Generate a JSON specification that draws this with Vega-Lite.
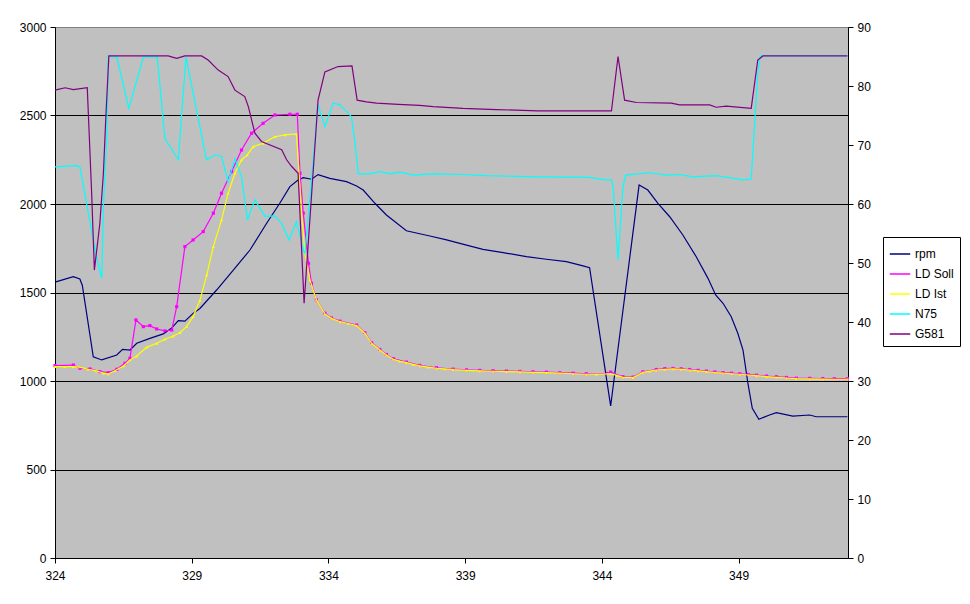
{
  "$schema": "https://vega.github.io/schema/vega-lite/v6.json",
  "width": 793,
  "height": 531,
  "autosize": {"type": "none"},
  "padding": {"left": 55, "top": 27, "right": 122, "bottom": 46},
  "background": "white",
  "config": {
    "view": {"fill": "#C0C0C0", "stroke": "#808080", "strokeWidth": 1},
    "font": "Liberation Sans",
    "axis": {
      "labelFont": "Liberation Sans",
      "labelFontSize": 12,
      "labelColor": "black",
      "domainColor": "black",
      "tickColor": "black",
      "tickSize": 5,
      "labelPadding": 4,
      "title": null
    },
    "legend": {
      "labelFont": "Liberation Sans",
      "labelFontSize": 12
    }
  },
  "datasets": {
    "left": [
      {"t": 324.0, "s": "rpm", "v": 1559},
      {"t": 324.67, "s": "rpm", "v": 1589},
      {"t": 324.91, "s": "rpm", "v": 1576},
      {"t": 325.0, "s": "rpm", "v": 1540},
      {"t": 325.4, "s": "rpm", "v": 1137},
      {"t": 325.71, "s": "rpm", "v": 1119},
      {"t": 326.26, "s": "rpm", "v": 1147},
      {"t": 326.47, "s": "rpm", "v": 1179},
      {"t": 326.74, "s": "rpm", "v": 1175},
      {"t": 326.99, "s": "rpm", "v": 1213},
      {"t": 327.47, "s": "rpm", "v": 1241},
      {"t": 327.96, "s": "rpm", "v": 1266},
      {"t": 328.27, "s": "rpm", "v": 1300},
      {"t": 328.51, "s": "rpm", "v": 1341},
      {"t": 328.75, "s": "rpm", "v": 1338},
      {"t": 329.05, "s": "rpm", "v": 1382},
      {"t": 329.3, "s": "rpm", "v": 1410},
      {"t": 329.91, "s": "rpm", "v": 1514},
      {"t": 330.52, "s": "rpm", "v": 1627},
      {"t": 331.13, "s": "rpm", "v": 1740},
      {"t": 331.74, "s": "rpm", "v": 1891},
      {"t": 332.22, "s": "rpm", "v": 2004},
      {"t": 332.59, "s": "rpm", "v": 2098},
      {"t": 332.89, "s": "rpm", "v": 2136},
      {"t": 333.08, "s": "rpm", "v": 2149},
      {"t": 333.38, "s": "rpm", "v": 2140},
      {"t": 333.62, "s": "rpm", "v": 2166},
      {"t": 334.05, "s": "rpm", "v": 2145},
      {"t": 334.66, "s": "rpm", "v": 2126},
      {"t": 335.03, "s": "rpm", "v": 2102},
      {"t": 335.27, "s": "rpm", "v": 2079},
      {"t": 335.7, "s": "rpm", "v": 2004},
      {"t": 336.12, "s": "rpm", "v": 1938},
      {"t": 336.85, "s": "rpm", "v": 1849},
      {"t": 337.71, "s": "rpm", "v": 1819},
      {"t": 338.32, "s": "rpm", "v": 1797},
      {"t": 339.05, "s": "rpm", "v": 1768},
      {"t": 339.65, "s": "rpm", "v": 1744},
      {"t": 340.39, "s": "rpm", "v": 1725},
      {"t": 341.24, "s": "rpm", "v": 1703},
      {"t": 341.97, "s": "rpm", "v": 1688},
      {"t": 342.7, "s": "rpm", "v": 1674},
      {"t": 343.31, "s": "rpm", "v": 1650},
      {"t": 343.55, "s": "rpm", "v": 1640},
      {"t": 344.32, "s": "rpm", "v": 859},
      {"t": 345.36, "s": "rpm", "v": 2107},
      {"t": 345.68, "s": "rpm", "v": 2079},
      {"t": 346.05, "s": "rpm", "v": 2004},
      {"t": 346.48, "s": "rpm", "v": 1928},
      {"t": 346.96, "s": "rpm", "v": 1825},
      {"t": 347.45, "s": "rpm", "v": 1702},
      {"t": 347.88, "s": "rpm", "v": 1580},
      {"t": 348.16, "s": "rpm", "v": 1486},
      {"t": 348.43, "s": "rpm", "v": 1439},
      {"t": 348.73, "s": "rpm", "v": 1363},
      {"t": 348.97, "s": "rpm", "v": 1270},
      {"t": 349.16, "s": "rpm", "v": 1175},
      {"t": 349.34, "s": "rpm", "v": 987},
      {"t": 349.5, "s": "rpm", "v": 846},
      {"t": 349.74, "s": "rpm", "v": 784},
      {"t": 350.13, "s": "rpm", "v": 808},
      {"t": 350.38, "s": "rpm", "v": 821},
      {"t": 350.98, "s": "rpm", "v": 802},
      {"t": 351.6, "s": "rpm", "v": 808},
      {"t": 351.84, "s": "rpm", "v": 798},
      {"t": 352.98, "s": "rpm", "v": 798},

      {"t": 324.0, "s": "LD Soll", "v": 1087},
      {"t": 324.67, "s": "LD Soll", "v": 1090},
      {"t": 324.91, "s": "LD Soll", "v": 1072},
      {"t": 325.28, "s": "LD Soll", "v": 1068},
      {"t": 325.64, "s": "LD Soll", "v": 1053},
      {"t": 325.95, "s": "LD Soll", "v": 1047},
      {"t": 326.26, "s": "LD Soll", "v": 1066},
      {"t": 326.56, "s": "LD Soll", "v": 1100},
      {"t": 326.74, "s": "LD Soll", "v": 1128},
      {"t": 326.96, "s": "LD Soll", "v": 1345},
      {"t": 327.23, "s": "LD Soll", "v": 1307},
      {"t": 327.47, "s": "LD Soll", "v": 1313},
      {"t": 327.72, "s": "LD Soll", "v": 1294},
      {"t": 328.02, "s": "LD Soll", "v": 1283},
      {"t": 328.27, "s": "LD Soll", "v": 1288},
      {"t": 328.45, "s": "LD Soll", "v": 1420},
      {"t": 328.75, "s": "LD Soll", "v": 1759},
      {"t": 329.05, "s": "LD Soll", "v": 1797},
      {"t": 329.42, "s": "LD Soll", "v": 1844},
      {"t": 329.79, "s": "LD Soll", "v": 1948},
      {"t": 330.09, "s": "LD Soll", "v": 2061},
      {"t": 330.46, "s": "LD Soll", "v": 2183},
      {"t": 330.82, "s": "LD Soll", "v": 2305},
      {"t": 331.19, "s": "LD Soll", "v": 2400},
      {"t": 331.61, "s": "LD Soll", "v": 2456},
      {"t": 332.04, "s": "LD Soll", "v": 2503},
      {"t": 332.59, "s": "LD Soll", "v": 2507},
      {"t": 332.86, "s": "LD Soll", "v": 2507},
      {"t": 332.96, "s": "LD Soll", "v": 2174},
      {"t": 333.08, "s": "LD Soll", "v": 1948},
      {"t": 333.27, "s": "LD Soll", "v": 1665},
      {"t": 333.38, "s": "LD Soll", "v": 1552},
      {"t": 333.56, "s": "LD Soll", "v": 1458},
      {"t": 333.87, "s": "LD Soll", "v": 1383},
      {"t": 334.11, "s": "LD Soll", "v": 1356},
      {"t": 334.42, "s": "LD Soll", "v": 1338},
      {"t": 335.03, "s": "LD Soll", "v": 1316},
      {"t": 335.33, "s": "LD Soll", "v": 1273},
      {"t": 335.58, "s": "LD Soll", "v": 1216},
      {"t": 335.88, "s": "LD Soll", "v": 1178},
      {"t": 336.12, "s": "LD Soll", "v": 1150},
      {"t": 336.37, "s": "LD Soll", "v": 1126},
      {"t": 336.85, "s": "LD Soll", "v": 1107},
      {"t": 337.34, "s": "LD Soll", "v": 1088},
      {"t": 337.95, "s": "LD Soll", "v": 1075},
      {"t": 338.56, "s": "LD Soll", "v": 1067},
      {"t": 339.05, "s": "LD Soll", "v": 1063},
      {"t": 339.53, "s": "LD Soll", "v": 1060},
      {"t": 340.02, "s": "LD Soll", "v": 1058},
      {"t": 340.51, "s": "LD Soll", "v": 1056},
      {"t": 341.0, "s": "LD Soll", "v": 1054},
      {"t": 341.48, "s": "LD Soll", "v": 1052},
      {"t": 341.97, "s": "LD Soll", "v": 1050},
      {"t": 342.46, "s": "LD Soll", "v": 1047},
      {"t": 342.95, "s": "LD Soll", "v": 1044},
      {"t": 343.43, "s": "LD Soll", "v": 1041},
      {"t": 344.17, "s": "LD Soll", "v": 1043},
      {"t": 344.32, "s": "LD Soll", "v": 1050},
      {"t": 344.77, "s": "LD Soll", "v": 1024},
      {"t": 345.14, "s": "LD Soll", "v": 1022},
      {"t": 345.5, "s": "LD Soll", "v": 1052},
      {"t": 345.99, "s": "LD Soll", "v": 1065},
      {"t": 346.3, "s": "LD Soll", "v": 1070},
      {"t": 346.6, "s": "LD Soll", "v": 1071},
      {"t": 346.9, "s": "LD Soll", "v": 1069},
      {"t": 347.21, "s": "LD Soll", "v": 1065},
      {"t": 347.52, "s": "LD Soll", "v": 1060},
      {"t": 347.82, "s": "LD Soll", "v": 1056},
      {"t": 348.13, "s": "LD Soll", "v": 1051},
      {"t": 348.43, "s": "LD Soll", "v": 1047},
      {"t": 348.74, "s": "LD Soll", "v": 1044},
      {"t": 349.04, "s": "LD Soll", "v": 1041},
      {"t": 349.35, "s": "LD Soll", "v": 1037},
      {"t": 349.65, "s": "LD Soll", "v": 1033},
      {"t": 350.02, "s": "LD Soll", "v": 1028},
      {"t": 350.38, "s": "LD Soll", "v": 1024},
      {"t": 350.75, "s": "LD Soll", "v": 1020},
      {"t": 351.11, "s": "LD Soll", "v": 1016},
      {"t": 351.6, "s": "LD Soll", "v": 1015},
      {"t": 352.08, "s": "LD Soll", "v": 1014},
      {"t": 352.5, "s": "LD Soll", "v": 1013},
      {"t": 352.98, "s": "LD Soll", "v": 1013},

      {"t": 324.0, "s": "LD Ist", "v": 1081},
      {"t": 324.35, "s": "LD Ist", "v": 1081},
      {"t": 324.67, "s": "LD Ist", "v": 1081},
      {"t": 324.91, "s": "LD Ist", "v": 1078},
      {"t": 325.22, "s": "LD Ist", "v": 1066},
      {"t": 325.52, "s": "LD Ist", "v": 1057},
      {"t": 325.77, "s": "LD Ist", "v": 1044},
      {"t": 325.95, "s": "LD Ist", "v": 1040},
      {"t": 326.19, "s": "LD Ist", "v": 1058},
      {"t": 326.5, "s": "LD Ist", "v": 1085},
      {"t": 326.74, "s": "LD Ist", "v": 1119},
      {"t": 326.99, "s": "LD Ist", "v": 1141},
      {"t": 327.35, "s": "LD Ist", "v": 1190},
      {"t": 327.72, "s": "LD Ist", "v": 1213},
      {"t": 328.02, "s": "LD Ist", "v": 1236},
      {"t": 328.32, "s": "LD Ist", "v": 1254},
      {"t": 328.57, "s": "LD Ist", "v": 1273},
      {"t": 328.81, "s": "LD Ist", "v": 1307},
      {"t": 329.05, "s": "LD Ist", "v": 1363},
      {"t": 329.3, "s": "LD Ist", "v": 1456},
      {"t": 329.55, "s": "LD Ist", "v": 1600},
      {"t": 329.79, "s": "LD Ist", "v": 1759},
      {"t": 330.09, "s": "LD Ist", "v": 1910},
      {"t": 330.33, "s": "LD Ist", "v": 2061},
      {"t": 330.58, "s": "LD Ist", "v": 2174},
      {"t": 330.82, "s": "LD Ist", "v": 2249},
      {"t": 331.03, "s": "LD Ist", "v": 2277},
      {"t": 331.25, "s": "LD Ist", "v": 2324},
      {"t": 331.61, "s": "LD Ist", "v": 2343},
      {"t": 332.04, "s": "LD Ist", "v": 2380},
      {"t": 332.41, "s": "LD Ist", "v": 2390},
      {"t": 332.83, "s": "LD Ist", "v": 2396},
      {"t": 333.02, "s": "LD Ist", "v": 1948},
      {"t": 333.14, "s": "LD Ist", "v": 1722},
      {"t": 333.32, "s": "LD Ist", "v": 1571},
      {"t": 333.56, "s": "LD Ist", "v": 1458},
      {"t": 333.87, "s": "LD Ist", "v": 1379},
      {"t": 334.11, "s": "LD Ist", "v": 1354},
      {"t": 334.42, "s": "LD Ist", "v": 1335},
      {"t": 334.72, "s": "LD Ist", "v": 1325},
      {"t": 335.03, "s": "LD Ist", "v": 1313},
      {"t": 335.33, "s": "LD Ist", "v": 1270},
      {"t": 335.58, "s": "LD Ist", "v": 1213},
      {"t": 335.88, "s": "LD Ist", "v": 1175},
      {"t": 336.12, "s": "LD Ist", "v": 1147},
      {"t": 336.37, "s": "LD Ist", "v": 1123},
      {"t": 336.61, "s": "LD Ist", "v": 1112},
      {"t": 336.85, "s": "LD Ist", "v": 1104},
      {"t": 337.1, "s": "LD Ist", "v": 1094},
      {"t": 337.34, "s": "LD Ist", "v": 1085},
      {"t": 337.65, "s": "LD Ist", "v": 1078},
      {"t": 337.95, "s": "LD Ist", "v": 1072},
      {"t": 338.26, "s": "LD Ist", "v": 1068},
      {"t": 338.56, "s": "LD Ist", "v": 1064},
      {"t": 339.05, "s": "LD Ist", "v": 1060},
      {"t": 339.53, "s": "LD Ist", "v": 1057},
      {"t": 340.02, "s": "LD Ist", "v": 1055},
      {"t": 340.51, "s": "LD Ist", "v": 1053},
      {"t": 341.0, "s": "LD Ist", "v": 1051},
      {"t": 341.48, "s": "LD Ist", "v": 1049},
      {"t": 341.97, "s": "LD Ist", "v": 1047},
      {"t": 342.46, "s": "LD Ist", "v": 1044},
      {"t": 342.95, "s": "LD Ist", "v": 1041},
      {"t": 343.43, "s": "LD Ist", "v": 1038},
      {"t": 343.8, "s": "LD Ist", "v": 1039},
      {"t": 344.17, "s": "LD Ist", "v": 1040},
      {"t": 344.32, "s": "LD Ist", "v": 1041},
      {"t": 344.55, "s": "LD Ist", "v": 1032},
      {"t": 344.77, "s": "LD Ist", "v": 1021},
      {"t": 345.14, "s": "LD Ist", "v": 1019},
      {"t": 345.5, "s": "LD Ist", "v": 1049},
      {"t": 345.75, "s": "LD Ist", "v": 1056},
      {"t": 345.99, "s": "LD Ist", "v": 1062},
      {"t": 346.3, "s": "LD Ist", "v": 1066},
      {"t": 346.6, "s": "LD Ist", "v": 1068},
      {"t": 346.9, "s": "LD Ist", "v": 1066},
      {"t": 347.21, "s": "LD Ist", "v": 1062},
      {"t": 347.52, "s": "LD Ist", "v": 1057},
      {"t": 347.82, "s": "LD Ist", "v": 1053},
      {"t": 348.13, "s": "LD Ist", "v": 1048},
      {"t": 348.43, "s": "LD Ist", "v": 1044},
      {"t": 348.74, "s": "LD Ist", "v": 1041},
      {"t": 349.04, "s": "LD Ist", "v": 1038},
      {"t": 349.35, "s": "LD Ist", "v": 1034},
      {"t": 349.65, "s": "LD Ist", "v": 1030},
      {"t": 350.02, "s": "LD Ist", "v": 1025},
      {"t": 350.38, "s": "LD Ist", "v": 1021},
      {"t": 350.75, "s": "LD Ist", "v": 1017},
      {"t": 351.11, "s": "LD Ist", "v": 1013},
      {"t": 351.6, "s": "LD Ist", "v": 1012},
      {"t": 352.08, "s": "LD Ist", "v": 1011},
      {"t": 352.5, "s": "LD Ist", "v": 1010},
      {"t": 352.98, "s": "LD Ist", "v": 1010}
    ],
    "right": [
      {"t": 324.0, "s": "N75", "v": 66.3},
      {"t": 324.79, "s": "N75", "v": 66.5},
      {"t": 324.91, "s": "N75", "v": 66.3},
      {"t": 325.4, "s": "N75", "v": 53.9},
      {"t": 325.52, "s": "N75", "v": 51.1},
      {"t": 325.71, "s": "N75", "v": 47.4},
      {"t": 325.77, "s": "N75", "v": 59.5},
      {"t": 325.89, "s": "N75", "v": 70.9},
      {"t": 325.95, "s": "N75", "v": 85.0},
      {"t": 326.26, "s": "N75", "v": 84.9},
      {"t": 326.7, "s": "N75", "v": 76.2},
      {"t": 327.23, "s": "N75", "v": 84.9},
      {"t": 327.74, "s": "N75", "v": 84.9},
      {"t": 328.02, "s": "N75", "v": 71.1},
      {"t": 328.51, "s": "N75", "v": 67.5},
      {"t": 328.79, "s": "N75", "v": 84.9},
      {"t": 329.54, "s": "N75", "v": 67.5},
      {"t": 329.85, "s": "N75", "v": 68.3},
      {"t": 330.09, "s": "N75", "v": 68.1},
      {"t": 330.33, "s": "N75", "v": 63.8},
      {"t": 330.58, "s": "N75", "v": 67.7},
      {"t": 330.82, "s": "N75", "v": 64.6},
      {"t": 331.04, "s": "N75", "v": 57.3},
      {"t": 331.31, "s": "N75", "v": 60.7},
      {"t": 331.68, "s": "N75", "v": 57.9},
      {"t": 332.04, "s": "N75", "v": 58.0},
      {"t": 332.29, "s": "N75", "v": 56.7},
      {"t": 332.56, "s": "N75", "v": 53.9},
      {"t": 332.83, "s": "N75", "v": 57.0},
      {"t": 333.08, "s": "N75", "v": 52.2},
      {"t": 333.14, "s": "N75", "v": 51.6},
      {"t": 333.36, "s": "N75", "v": 62.9},
      {"t": 333.62, "s": "N75", "v": 76.8},
      {"t": 333.87, "s": "N75", "v": 73.1},
      {"t": 334.17, "s": "N75", "v": 77.1},
      {"t": 334.42, "s": "N75", "v": 76.8},
      {"t": 334.84, "s": "N75", "v": 74.8},
      {"t": 334.96, "s": "N75", "v": 70.9},
      {"t": 335.09, "s": "N75", "v": 65.1},
      {"t": 335.51, "s": "N75", "v": 65.1},
      {"t": 335.88, "s": "N75", "v": 65.5},
      {"t": 336.24, "s": "N75", "v": 65.1},
      {"t": 336.61, "s": "N75", "v": 65.4},
      {"t": 337.1, "s": "N75", "v": 64.9},
      {"t": 337.83, "s": "N75", "v": 65.1},
      {"t": 338.92, "s": "N75", "v": 65.0},
      {"t": 339.78, "s": "N75", "v": 64.8},
      {"t": 341.61, "s": "N75", "v": 64.6},
      {"t": 343.55, "s": "N75", "v": 64.5},
      {"t": 344.1, "s": "N75", "v": 64.1},
      {"t": 344.35, "s": "N75", "v": 64.1},
      {"t": 344.41, "s": "N75", "v": 62.9},
      {"t": 344.59, "s": "N75", "v": 50.5},
      {"t": 344.77, "s": "N75", "v": 62.9},
      {"t": 344.87, "s": "N75", "v": 64.9},
      {"t": 345.75, "s": "N75", "v": 65.3},
      {"t": 346.36, "s": "N75", "v": 64.9},
      {"t": 346.84, "s": "N75", "v": 65.0},
      {"t": 347.33, "s": "N75", "v": 64.6},
      {"t": 348.18, "s": "N75", "v": 64.8},
      {"t": 349.16, "s": "N75", "v": 64.1},
      {"t": 349.46, "s": "N75", "v": 64.2},
      {"t": 349.55, "s": "N75", "v": 70.9},
      {"t": 349.7, "s": "N75", "v": 82.2},
      {"t": 349.79, "s": "N75", "v": 85.1},
      {"t": 352.98, "s": "N75", "v": 85.1},

      {"t": 324.0, "s": "G581", "v": 79.3},
      {"t": 324.37, "s": "G581", "v": 79.7},
      {"t": 324.67, "s": "G581", "v": 79.4},
      {"t": 325.18, "s": "G581", "v": 79.7},
      {"t": 325.34, "s": "G581", "v": 61.9},
      {"t": 325.44, "s": "G581", "v": 48.8},
      {"t": 325.64, "s": "G581", "v": 56.7},
      {"t": 325.77, "s": "G581", "v": 65.2},
      {"t": 325.86, "s": "G581", "v": 74.8},
      {"t": 325.97, "s": "G581", "v": 85.1},
      {"t": 328.14, "s": "G581", "v": 85.1},
      {"t": 328.45, "s": "G581", "v": 84.7},
      {"t": 328.75, "s": "G581", "v": 85.1},
      {"t": 329.36, "s": "G581", "v": 85.1},
      {"t": 329.6, "s": "G581", "v": 84.4},
      {"t": 329.97, "s": "G581", "v": 82.7},
      {"t": 330.33, "s": "G581", "v": 81.6},
      {"t": 330.58, "s": "G581", "v": 79.3},
      {"t": 330.94, "s": "G581", "v": 78.2},
      {"t": 331.07, "s": "G581", "v": 76.5},
      {"t": 331.31, "s": "G581", "v": 72.0},
      {"t": 331.55, "s": "G581", "v": 70.6},
      {"t": 332.29, "s": "G581", "v": 69.2},
      {"t": 332.47, "s": "G581", "v": 67.5},
      {"t": 332.65, "s": "G581", "v": 66.4},
      {"t": 332.89, "s": "G581", "v": 65.2},
      {"t": 333.11, "s": "G581", "v": 43.2},
      {"t": 333.32, "s": "G581", "v": 57.3},
      {"t": 333.62, "s": "G581", "v": 77.6},
      {"t": 333.87, "s": "G581", "v": 82.4},
      {"t": 334.35, "s": "G581", "v": 83.3},
      {"t": 334.86, "s": "G581", "v": 83.4},
      {"t": 335.05, "s": "G581", "v": 77.6},
      {"t": 335.39, "s": "G581", "v": 77.3},
      {"t": 335.76, "s": "G581", "v": 77.1},
      {"t": 336.55, "s": "G581", "v": 76.9},
      {"t": 337.34, "s": "G581", "v": 76.7},
      {"t": 337.83, "s": "G581", "v": 76.5},
      {"t": 338.92, "s": "G581", "v": 76.2},
      {"t": 340.14, "s": "G581", "v": 76.0},
      {"t": 341.66, "s": "G581", "v": 75.8},
      {"t": 344.35, "s": "G581", "v": 75.8},
      {"t": 344.59, "s": "G581", "v": 85.0},
      {"t": 344.83, "s": "G581", "v": 77.6},
      {"t": 345.26, "s": "G581", "v": 77.2},
      {"t": 346.54, "s": "G581", "v": 77.1},
      {"t": 346.84, "s": "G581", "v": 76.8},
      {"t": 347.94, "s": "G581", "v": 76.8},
      {"t": 348.18, "s": "G581", "v": 76.4},
      {"t": 348.55, "s": "G581", "v": 76.6},
      {"t": 349.46, "s": "G581", "v": 76.2},
      {"t": 349.7, "s": "G581", "v": 84.4},
      {"t": 349.89, "s": "G581", "v": 85.1},
      {"t": 352.98, "s": "G581", "v": 85.1}
    ]
  },
  "encoding": {
    "x": {
      "field": "t",
      "type": "quantitative",
      "scale": {"domain": [324, 353], "nice": false, "zero": false},
      "axis": {
        "values": [324, 329, 334, 339, 344, 349],
        "format": "d",
        "grid": false,
        "labelPadding": 7,
        "labelFlush": false
      }
    },
    "color": {
      "field": "s",
      "type": "nominal",
      "scale": {
        "domain": ["rpm", "LD Soll", "LD Ist", "N75", "G581"],
        "range": ["#000080", "#FF00FF", "#FFFF00", "#00FFFF", "#800080"]
      },
      "legend": {
        "title": null,
        "orient": "none",
        "legendX": 828,
        "legendY": 210,
        "symbolType": "stroke",
        "symbolSize": 420,
        "symbolStrokeWidth": 1.5,
        "rowPadding": 3,
        "labelOffset": 4,
        "padding": 6,
        "strokeColor": "black",
        "fillColor": "white",
        "cornerRadius": 0
      }
    }
  },
  "layer": [
    {
      "data": {"name": "left"},
      "encoding": {
        "y": {
          "field": "v",
          "type": "quantitative",
          "scale": {"domain": [0, 3000], "nice": false},
          "axis": {
            "orient": "left",
            "values": [0, 500, 1000, 1500, 2000, 2500, 3000],
            "format": "d",
            "grid": true,
            "gridColor": {"condition": {"test": "datum.value >= 3000 || datum.value <= 0", "value": "#808080"}, "value": "black"},
            "gridOpacity": 1,
            "gridWidth": 1
          }
        }
      },
      "layer": [
        {
          "transform": [{"filter": "datum.s != 'rpm'"}],
          "mark": {"type": "point", "filled": true, "size": 10, "opacity": 1},
          "encoding": {
            "shape": {
              "field": "s",
              "type": "nominal",
              "scale": {"domain": ["LD Soll", "LD Ist"], "range": ["square", "triangle-up"]},
              "legend": null
            }
          }
        },
        {"mark": {"type": "line", "strokeWidth": 1.2, "interpolate": "linear"}}
      ]
    },
    {
      "data": {"name": "right"},
      "mark": {"type": "line", "strokeWidth": 1.2, "interpolate": "linear"},
      "encoding": {
        "y": {
          "field": "v",
          "type": "quantitative",
          "scale": {"domain": [0, 90], "nice": false},
          "axis": {
            "orient": "right",
            "values": [0, 10, 20, 30, 40, 50, 60, 70, 80, 90],
            "format": "d",
            "grid": false
          }
        }
      }
    }
  ],
  "resolve": {"scale": {"y": "independent"}}
}
